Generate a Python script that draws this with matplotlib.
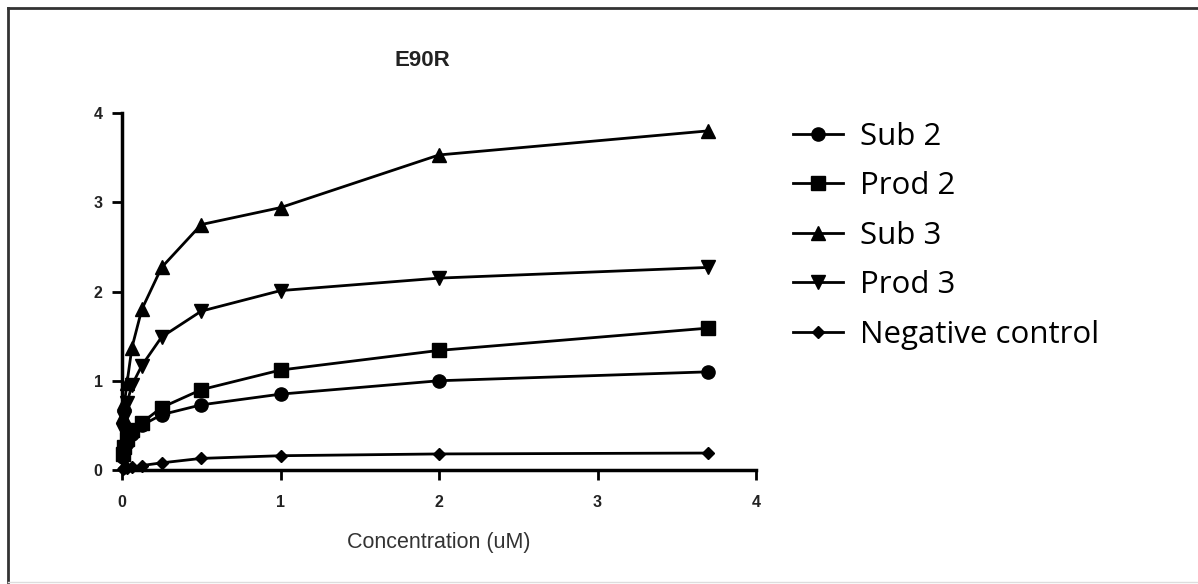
import matplotlib
matplotlib.use("Agg")
import matplotlib.pyplot as plt
from matplotlib.lines import Line2D

# ── data ──────────────────────────────────────
conc = [0.0078, 0.0156, 0.03125, 0.0625, 0.125, 0.25, 0.5, 1, 2, 3.7]

sub2 = [0.15, 0.22, 0.30, 0.40, 0.50, 0.62, 0.73, 0.85, 1.00, 1.10]
prod2 = [0.18, 0.26, 0.35, 0.45, 0.53, 0.70, 0.90, 1.12, 1.34, 1.59]
sub3 = [0.60, 0.75, 0.97, 1.37, 1.80, 2.27, 2.75, 2.94, 3.53, 3.80]
prod3 = [0.45, 0.58, 0.75, 0.95, 1.17, 1.49, 1.78, 2.01, 2.15, 2.27]
neg_ctrl = [0.01, 0.02, 0.02, 0.03, 0.05, 0.08, 0.13, 0.16, 0.18, 0.19]

series = [
    ("Sub 2", sub2, "o"),
    ("Prod 2", prod2, "s"),
    ("Sub 3", sub3, "^"),
    ("Prod 3", prod3, "v"),
    ("Negative control", neg_ctrl, "D"),
]
marker_size = {"o": 9.5, "s": 9.5, "^": 10, "v": 10, "D": 6.5}

x_ticks = [0, 1, 2, 3, 4]
y_ticks = [0, 1, 2, 3, 4]

# ── figure ────────────────────────────────────
fig = plt.figure(figsize=(11.98, 5.84), dpi=100)
ax = fig.add_axes([122 / 1198, 1 - 470 / 584, 634 / 1198, 357 / 584])

for label, vals, mk in series:
    ax.plot(conc, vals, color="black", linewidth=2, marker=mk,
            markersize=marker_size[mk], clip_on=False, label=label)

ax.set_xlim(0, 4)
ax.set_ylim(0, 4)
ax.set_xticks(x_ticks)
ax.set_yticks(y_ticks)
tick_font = dict(fontsize=11.5, fontweight="bold", family="Liberation Sans",
                 color="#222222")
ax.set_xticklabels([str(t) for t in x_ticks], **tick_font)
ax.set_yticklabels([str(t) for t in y_ticks], **tick_font)
ax.tick_params(axis="both", length=7, width=2)
ax.tick_params(axis="x", pad=11)
ax.tick_params(axis="y", pad=7)
for side in ("top", "right"):
    ax.spines[side].set_visible(False)
for side in ("left", "bottom"):
    ax.spines[side].set_linewidth(2.5)

ax.set_xlabel("Concentration (uM)", fontsize=15.5, family="Liberation Sans",
              color="#333333", labelpad=16)
fig.text(422 / 1198, 1 - 61 / 584, "E90R", fontsize=16, fontweight="bold",
         family="Liberation Sans", ha="center", va="center", color="#222222")

leg = ax.legend(loc="upper left", bbox_to_anchor=(793 / 1198, 1 - 122 / 584),
                bbox_transform=fig.transFigure, frameon=False,
                prop={"family": "Open Sans", "size": 22.5},
                borderpad=0, borderaxespad=0,
                handlelength=1.6, handletextpad=0.55, labelspacing=0.62)

# figure border (top / left dark, bottom faint)
fig.add_artist(Line2D([8 / 1198, 8 / 1198], [0.003, 1 - 8 / 584],
                      transform=fig.transFigure, color="#333333", linewidth=2))
fig.add_artist(Line2D([8 / 1198, 1], [1 - 8 / 584, 1 - 8 / 584],
                      transform=fig.transFigure, color="#333333", linewidth=2))
fig.add_artist(Line2D([8 / 1198, 1], [0.003, 0.003],
                      transform=fig.transFigure, color="#dddddd", linewidth=1))

fig.savefig("out.png", dpi=100)
plt.close(fig)
